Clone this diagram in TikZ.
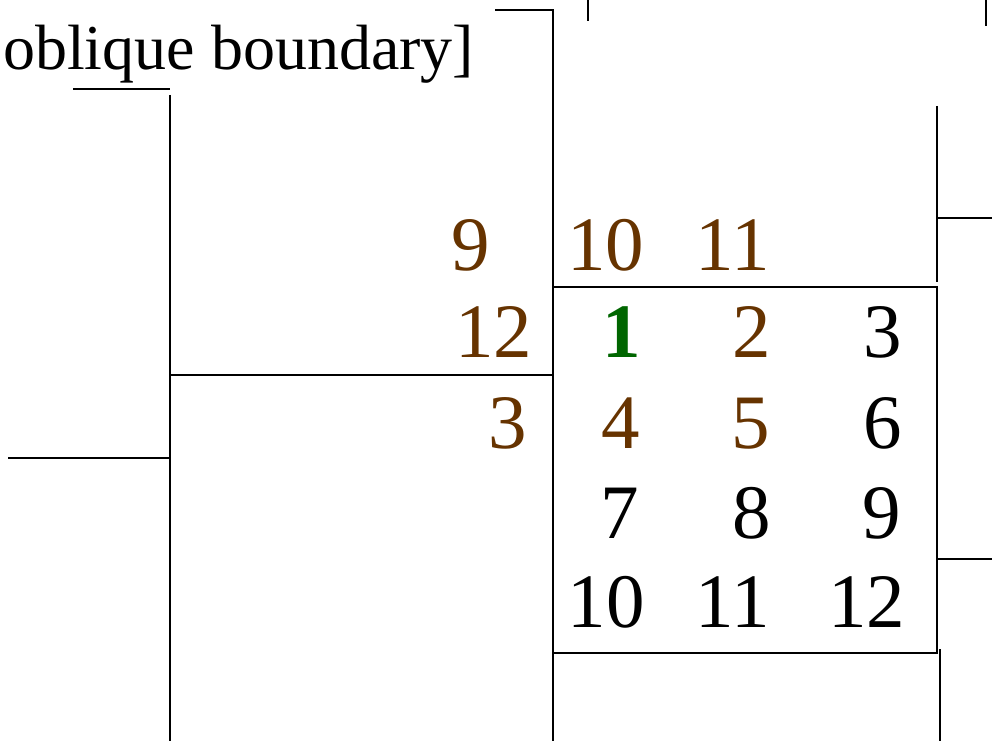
\documentclass[tikz,border=0pt]{standalone}
\usepackage{fontspec}
\setmainfont{Liberation Serif}
\definecolor{numbrown}{RGB}{102,51,0}
\definecolor{numgreen}{RGB}{0,102,0}
\begin{document}
\begin{tikzpicture}[x=1pt,y=-1pt,
  rule/.style={line width=1.6pt,black},
  num/.style={anchor=base,inner sep=0pt,font=\fontsize{77}{80}\selectfont},
  bnum/.style={num,text=numbrown},
  knum/.style={num,text=black}]
\useasboundingbox (0,0) rectangle (992,741);
% label
\node[anchor=base west,inner sep=0pt,font=\fontsize{64}{70}\selectfont] (lbl) at (3,70) {oblique boundary]};
% lines
\draw[rule] (73,89) -- (170,89);
\draw[rule] (170,95) -- (170,741);
\draw[rule] (495,10) -- (553,10) -- (553,741);
\draw[rule] (588,0) -- (588,21);
\draw[rule] (986,0) -- (986,26);
\draw[rule] (937,106) -- (937,282);
\draw[rule] (937,218) -- (992,218);
\draw[rule] (553,287) rectangle (937,653);
\draw[rule] (170,375) -- (553,375);
\draw[rule] (8,458) -- (170,458);
\draw[rule] (937,559) -- (992,559);
\draw[rule] (940,649) -- (940,741);
% numbers row 0
\node[bnum] (r0a) at (471,270) {9};
\node[bnum] (r0b) at (605.5,270) {10};
\node[bnum] (r0c) at (733,270) {11};
% row 1
\node[bnum] (r1a) at (493.5,357) {12};
\node[num,text=numgreen,font=\fontsize{77}{80}\selectfont\bfseries] (r1b) at (621.5,357) {1};
\node[bnum] (r1c) at (751.5,357) {2};
\node[knum] (r1d) at (883,357) {3};
% row 2
\node[bnum] (r2a) at (508,448) {3};
\node[bnum] (r2b) at (620.5,448) {4};
\node[bnum] (r2c) at (750.5,448) {5};
\node[knum] (r2d) at (883,448) {6};
% row 3
\node[knum] (r3b) at (619.5,538) {7};
\node[knum] (r3c) at (751.5,538) {8};
\node[knum] (r3d) at (882,538) {9};
% row 4
\node[knum] (r4b) at (606,627) {10};
\node[knum] (r4c) at (733,627) {11};
\node[knum] (r4d) at (866.5,627) {12};
\end{tikzpicture}
\end{document}
